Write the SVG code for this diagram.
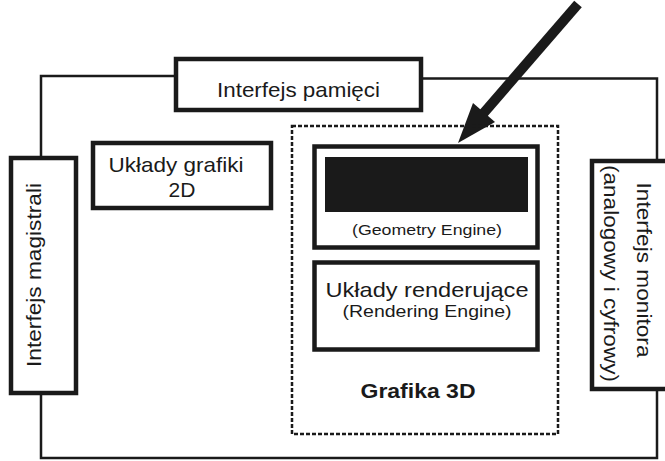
<svg xmlns="http://www.w3.org/2000/svg" width="665" height="461" viewBox="0 0 665 461">
<style>
.box{fill:#fff;stroke:#1a1a1a;stroke-width:4.5}
.wire{fill:none;stroke:#1a1a1a;stroke-width:2.5}
.t{font-family:"Liberation Sans",Arial,sans-serif;fill:#1a1a1a;text-anchor:middle}
</style>
<rect width="665" height="461" fill="#fff"/>
<g id="connectors">
<polyline class="wire" points="41,157 41,76 176,76"/>
<polyline class="wire" points="421,78.5 657,78.5 657,160"/>
<polyline class="wire" points="41,393 41,458 657,458 657,389"/>
<line x1="578" y1="4" x2="482" y2="115" stroke="#1a1a1a" stroke-width="10"/>
<polygon points="458,143 473,103 495,122" fill="#1a1a1a"/>
</g>
<g id="grafika3d">
<rect x="292" y="126" width="266" height="308" fill="none" stroke="#1a1a1a" stroke-width="2.5" stroke-dasharray="4 2"/>
<text class="t" x="418" y="398" font-size="20" font-weight="bold" textLength="115" lengthAdjust="spacingAndGlyphs">Grafika 3D</text>
</g>
<g id="pamieci">
<rect class="box" x="176" y="59" width="245" height="51"/>
<text class="t" x="298.5" y="97" font-size="21" textLength="163" lengthAdjust="spacingAndGlyphs">Interfejs pamięci</text>
</g>
<g id="magistrali">
<rect class="box" x="11" y="158" width="65" height="235"/>
<text class="t" transform="translate(41,275) rotate(-90)" font-size="21" textLength="184" lengthAdjust="spacingAndGlyphs">Interfejs magistrali</text>
</g>
<g id="grafika2d">
<rect class="box" x="93" y="143" width="178" height="65"/>
<text class="t" x="176" y="172" font-size="21" textLength="135" lengthAdjust="spacingAndGlyphs">Układy grafiki</text>
<text class="t" x="182" y="197" font-size="21">2D</text>
</g>
<g id="geometry">
<rect class="box" x="314.5" y="146.5" width="223" height="101"/>
<rect x="325" y="157" width="203" height="55" fill="#1a1a1a"/>
<text class="t" x="427" y="235" font-size="14" textLength="150" lengthAdjust="spacingAndGlyphs">(Geometry Engine)</text>
</g>
<g id="rendering">
<rect class="box" x="314.5" y="262.5" width="223" height="87"/>
<text class="t" x="427" y="297" font-size="21" textLength="203" lengthAdjust="spacingAndGlyphs">Układy renderujące</text>
<text class="t" x="427" y="317" font-size="16" textLength="169" lengthAdjust="spacingAndGlyphs">(Rendering Engine)</text>
</g>
<g id="monitor">
<rect class="box" x="592" y="161" width="80" height="228"/>
<text class="t" transform="translate(637,270) rotate(90)" font-size="21" textLength="175" lengthAdjust="spacingAndGlyphs">Interfejs monitora</text>
<text class="t" transform="translate(604,273.5) rotate(90)" font-size="21" textLength="217" lengthAdjust="spacingAndGlyphs">(analogowy i cyfrowy)</text>
</g>
</svg>
